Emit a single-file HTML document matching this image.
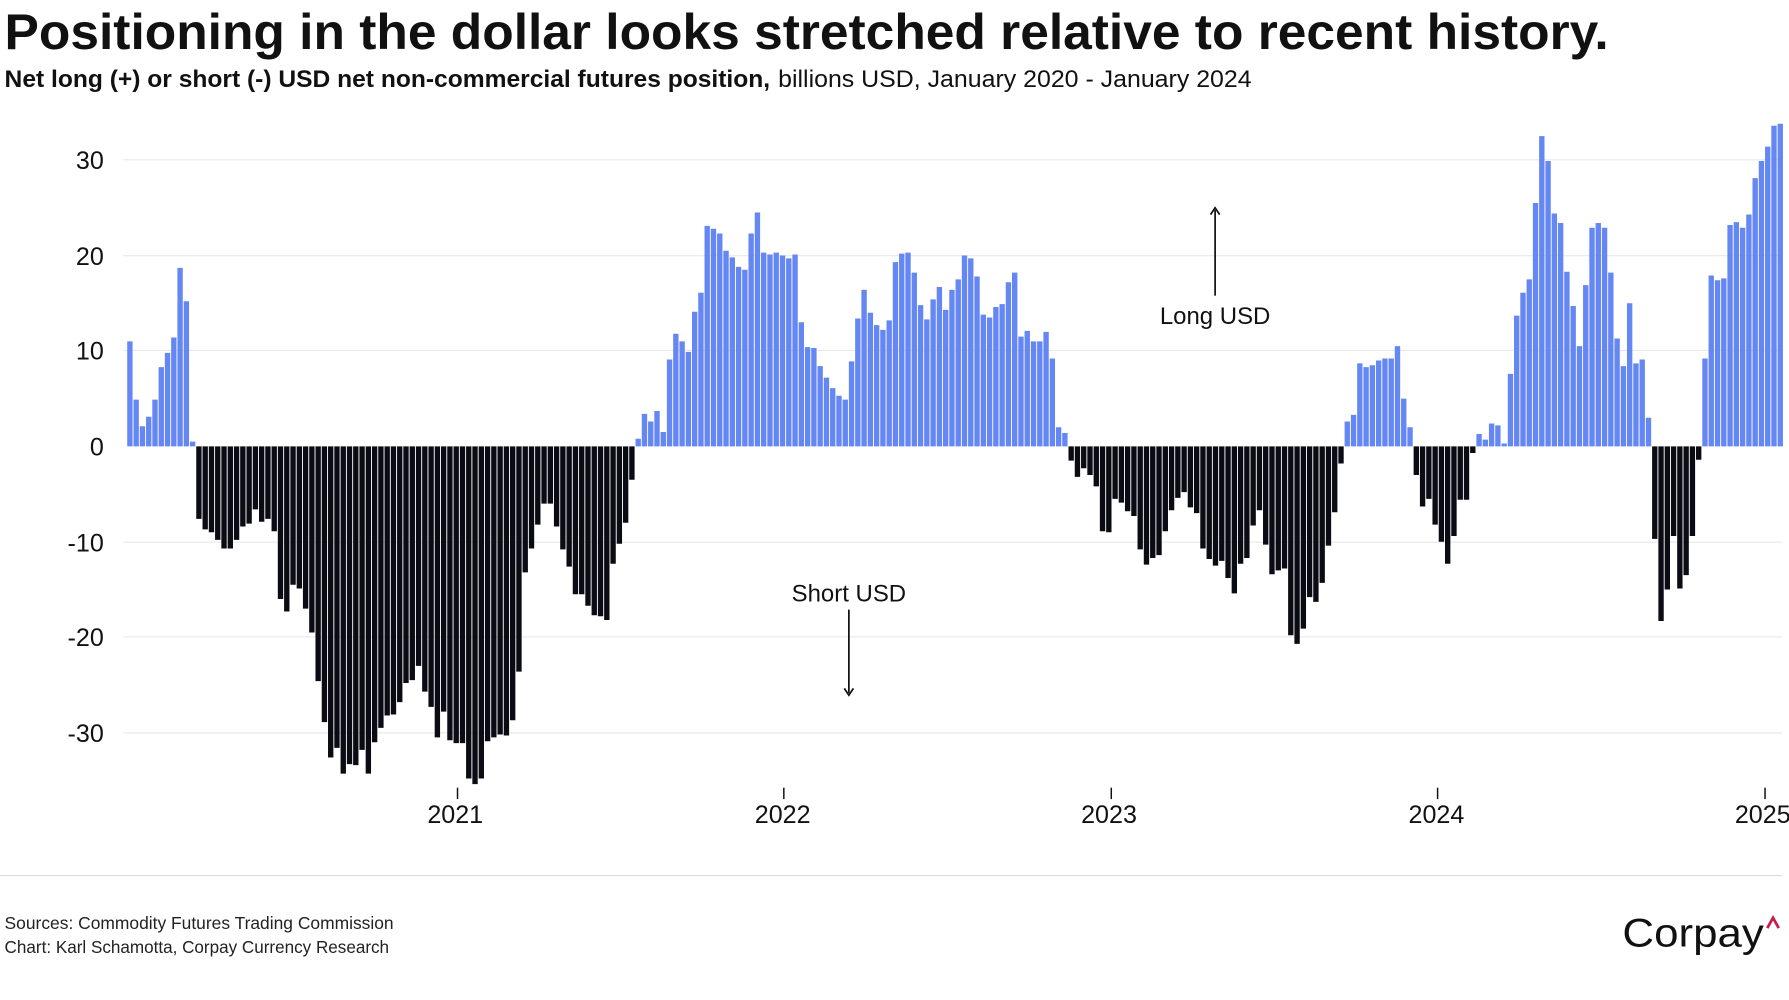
<!DOCTYPE html>
<html><head><meta charset="utf-8"><style>
html,body{margin:0;padding:0;background:#fff;}
svg{display:block;}
text{font-family:"Liberation Sans",sans-serif;}
</style></head><body>
<svg width="1789" height="1000" viewBox="0 0 1568 876" preserveAspectRatio="none" xmlns="http://www.w3.org/2000/svg">
<rect width="1568" height="876" fill="#fff"/>
<text x="4" y="43" font-size="44" font-weight="bold" fill="#111" textLength="1406" lengthAdjust="spacingAndGlyphs">Positioning in the dollar looks stretched relative to recent history.</text>
<text x="4" y="76" font-size="21" fill="#111"><tspan font-weight="bold" textLength="671" lengthAdjust="spacingAndGlyphs">Net long (+) or short (-) USD net non-commercial futures position,</tspan><tspan x="682" textLength="415" lengthAdjust="spacingAndGlyphs">billions USD, January 2020 - January 2024</tspan></text>
<g stroke="#e8e8e8" stroke-width="1">
<line x1="108" x2="1562" y1="140" y2="140"/><line x1="108" x2="1562" y1="224" y2="224"/>
<line x1="108" x2="1562" y1="307" y2="307"/><line x1="108" x2="1562" y1="475" y2="475"/>
<line x1="108" x2="1562" y1="558" y2="558"/><line x1="108" x2="1562" y1="642" y2="642"/>
</g>
<g font-size="22" fill="#111" text-anchor="end">
<text x="91" y="148">30</text><text x="91" y="232">20</text><text x="91" y="315">10</text>
<text x="91" y="399">0</text><text x="91" y="483">-10</text><text x="91" y="566">-20</text><text x="91" y="650">-30</text>
</g>
<g transform="translate(0,391) scale(1,-8.36)">
<path fill="#6587f4" d="M111.5 0
v11h4.7v-11h.8 v4.9h4.7v-4.9h.8 v2.1h4.7v-2.1h.8 v3.1h4.7v-3.1h.8 v4.9h4.7v-4.9h.8 v8.3h4.7v-8.3h.8 v9.8h4.7v-9.8h.8 v11.4h4.7v-11.4h.8 v18.7h4.7v-18.7h.8 v15.2h4.7v-15.2h.8 v0.5h4.7v-0.5h.8
h385
v0.8h4.7v-0.8h.8 v3.4h4.7v-3.4h.8 v2.6h4.7v-2.6h.8 v3.7h4.7v-3.7h.8 v1.5h4.7v-1.5h.8 v9.1h4.7v-9.1h.8 v11.8h4.7v-11.8h.8 v11h4.7v-11h.8 v9.9h4.7v-9.9h.8 v14.1h4.7v-14.1h.8
v16.1h4.7v-16.1h.8 v23.1h4.7v-23.1h.8 v22.8h4.7v-22.8h.8 v22.3h4.7v-22.3h.8 v20.5h4.7v-20.5h.8 v19.8h4.7v-19.8h.8 v18.8h4.7v-18.8h.8 v18.5h4.7v-18.5h.8 v22.3h4.7v-22.3h.8 v24.5h4.7v-24.5h.8
v20.3h4.7v-20.3h.8 v20.1h4.7v-20.1h.8 v20.3h4.7v-20.3h.8 v20h4.7v-20h.8 v19.7h4.7v-19.7h.8 v20.1h4.7v-20.1h.8 v13h4.7v-13h.8 v10.4h4.7v-10.4h.8 v10.3h4.7v-10.3h.8 v8.4h4.7v-8.4h.8
v7.2h4.7v-7.2h.8 v6.1h4.7v-6.1h.8 v5.3h4.7v-5.3h.8 v4.9h4.7v-4.9h.8 v8.9h4.7v-8.9h.8 v13.4h4.7v-13.4h.8 v16.4h4.7v-16.4h.8 v14h4.7v-14h.8 v12.7h4.7v-12.7h.8 v12.2h4.7v-12.2h.8 v13.2h4.7v-13.2h.8
v19.3h4.7v-19.3h.8 v20.2h4.7v-20.2h.8 v20.3h4.7v-20.3h.8 v18.2h4.7v-18.2h.8 v14.8h4.7v-14.8h.8 v13.3h4.7v-13.3h.8 v15.4h4.7v-15.4h.8 v16.7h4.7v-16.7h.8 v14.3h4.7v-14.3h.8 v16.4h4.7v-16.4h.8
v17.5h4.7v-17.5h.8 v20h4.7v-20h.8 v19.7h4.7v-19.7h.8 v17.8h4.7v-17.8h.8 v13.8h4.7v-13.8h.8 v13.5h4.7v-13.5h.8 v14.6h4.7v-14.6h.8 v14.9h4.7v-14.9h.8 v17.2h4.7v-17.2h.8 v18.2h4.7v-18.2h.8
v11.5h4.7v-11.5h.8 v12.1h4.7v-12.1h.8 v11h4.7v-11h.8 v11h4.7v-11h.8 v12h4.7v-12h.8 v9.2h4.7v-9.2h.8 v2h4.7v-2h.8 v1.4h4.7v-1.4h.8
h242
v2.6h4.7v-2.6h.8 v3.3h4.7v-3.3h.8 v8.7h4.7v-8.7h.8 v8.3h4.7v-8.3h.8 v8.5h4.7v-8.5h.8 v9h4.7v-9h.8 v9.2h4.7v-9.2h.8 v9.2h4.7v-9.2h.8 v10.5h4.7v-10.5h.8 v5h4.7v-5h.8 v2h4.7v-2h.8
h55
v1.3h4.7v-1.3h.8 v0.7h4.7v-0.7h.8 v2.4h4.7v-2.4h.8 v2.2h4.7v-2.2h.8 v0.3h4.7v-0.3h.8 v7.6h4.7v-7.6h.8 v13.7h4.7v-13.7h.8 v16.1h4.7v-16.1h.8 v17.5h4.7v-17.5h.8 v25.5h4.7v-25.5h.8
v32.5h4.7v-32.5h.8 v29.9h4.7v-29.9h.8 v24.4h4.7v-24.4h.8 v23.4h4.7v-23.4h.8 v18.3h4.7v-18.3h.8 v14.7h4.7v-14.7h.8 v10.5h4.7v-10.5h.8 v16.9h4.7v-16.9h.8 v22.9h4.7v-22.9h.8 v23.4h4.7v-23.4h.8
v22.9h4.7v-22.9h.8 v18.2h4.7v-18.2h.8 v11.3h4.7v-11.3h.8 v8.4h4.7v-8.4h.8 v15h4.7v-15h.8 v8.7h4.7v-8.7h.8 v9.1h4.7v-9.1h.8 v3h4.7v-3h.8
h44
v9.2h4.7v-9.2h.8 v17.9h4.7v-17.9h.8 v17.4h4.7v-17.4h.8 v17.6h4.7v-17.6h.8 v23.2h4.7v-23.2h.8 v23.5h4.7v-23.5h.8 v22.9h4.7v-22.9h.8 v24.3h4.7v-24.3h.8 v28.1h4.7v-28.1h.8 v29.9h4.7v-29.9h.8
v31.4h4.7v-31.4h.8 v33.6h4.7v-33.6h.8 v33.8h4.7v-33.8h.8"/>
<path fill="#0b0b14" d="M111.5 0 h60.5
v-7.6h4.7v7.6h.8 v-8.7h4.7v8.7h.8 v-9h4.7v9h.8 v-9.8h4.7v9.8h.8 v-10.7h4.7v10.7h.8 v-10.7h4.7v10.7h.8 v-9.8h4.7v9.8h.8 v-8.4h4.7v8.4h.8 v-8.1h4.7v8.1h.8 v-6.6h4.7v6.6h.8
v-7.9h4.7v7.9h.8 v-7.6h4.7v7.6h.8 v-8.9h4.7v8.9h.8 v-16h4.7v16h.8 v-17.3h4.7v17.3h.8 v-14.5h4.7v14.5h.8 v-14.9h4.7v14.9h.8 v-17h4.7v17h.8 v-19.5h4.7v19.5h.8 v-24.6h4.7v24.6h.8
v-28.9h4.7v28.9h.8 v-32.6h4.7v32.6h.8 v-31.6h4.7v31.6h.8 v-34.3h4.7v34.3h.8 v-33.3h4.7v33.3h.8 v-33.4h4.7v33.4h.8 v-31.8h4.7v31.8h.8 v-34.3h4.7v34.3h.8 v-31h4.7v31h.8 v-29.5h4.7v29.5h.8
v-28.2h4.7v28.2h.8 v-28.1h4.7v28.1h.8 v-26.8h4.7v26.8h.8 v-24.8h4.7v24.8h.8 v-24.5h4.7v24.5h.8 v-23h4.7v23h.8 v-25.7h4.7v25.7h.8 v-27.3h4.7v27.3h.8 v-30.5h4.7v30.5h.8 v-27.8h4.7v27.8h.8
v-30.8h4.7v30.8h.8 v-31.1h4.7v31.1h.8 v-31.1h4.7v31.1h.8 v-34.8h4.7v34.8h.8 v-35.4h4.7v35.4h.8 v-34.8h4.7v34.8h.8 v-30.9h4.7v30.9h.8 v-30.5h4.7v30.5h.8 v-30.2h4.7v30.2h.8 v-30.3h4.7v30.3h.8
v-28.7h4.7v28.7h.8 v-23.6h4.7v23.6h.8 v-13.2h4.7v13.2h.8 v-10.7h4.7v10.7h.8 v-8.2h4.7v8.2h.8 v-6h4.7v6h.8 v-6h4.7v6h.8 v-8.4h4.7v8.4h.8 v-10.8h4.7v10.8h.8 v-12.6h4.7v12.6h.8
v-15.5h4.7v15.5h.8 v-15.5h4.7v15.5h.8 v-16.7h4.7v16.7h.8 v-17.7h4.7v17.7h.8 v-17.8h4.7v17.8h.8 v-18.2h4.7v18.2h.8 v-12.3h4.7v12.3h.8 v-10.2h4.7v10.2h.8 v-8h4.7v8h.8 v-3.5h4.7v3.5h.8
h379.5
v-1.5h4.7v1.5h.8 v-3.2h4.7v3.2h.8 v-2.3h4.7v2.3h.8 v-3h4.7v3h.8 v-4.2h4.7v4.2h.8 v-8.9h4.7v8.9h.8 v-9h4.7v9h.8 v-5.5h4.7v5.5h.8 v-5.9h4.7v5.9h.8 v-6.8h4.7v6.8h.8
v-7.3h4.7v7.3h.8 v-10.8h4.7v10.8h.8 v-12.4h4.7v12.4h.8 v-11.7h4.7v11.7h.8 v-11.4h4.7v11.4h.8 v-8.9h4.7v8.9h.8 v-6.7h4.7v6.7h.8 v-5.4h4.7v5.4h.8 v-4.8h4.7v4.8h.8
v-6.4h4.7v6.4h.8 v-7h4.7v7h.8 v-10.7h4.7v10.7h.8 v-11.8h4.7v11.8h.8 v-12.5h4.7v12.5h.8 v-12h4.7v12h.8 v-13.8h4.7v13.8h.8 v-15.4h4.7v15.4h.8 v-12.3h4.7v12.3h.8 v-11.7h4.7v11.7h.8
v-8.3h4.7v8.3h.8 v-6.7h4.7v6.7h.8 v-10.3h4.7v10.3h.8 v-13.4h4.7v13.4h.8 v-13h4.7v13h.8 v-12.8h4.7v12.8h.8 v-19.8h4.7v19.8h.8 v-20.7h4.7v20.7h.8 v-19.1h4.7v19.1h.8 v-15.8h4.7v15.8h.8
v-16.3h4.7v16.3h.8 v-14.3h4.7v14.3h.8 v-10.4h4.7v10.4h.8 v-6.9h4.7v6.9h.8 v-1.8h4.7v1.8h.8
h60.5
v-3h4.7v3h.8 v-6.3h4.7v6.3h.8 v-5.5h4.7v5.5h.8 v-8.2h4.7v8.2h.8 v-10h4.7v10h.8 v-12.3h4.7v12.3h.8 v-9.4h4.7v9.4h.8 v-5.6h4.7v5.6h.8 v-5.6h4.7v5.6h.8 v-0.7h4.7v0.7h.8
h154
v-9.7h4.7v9.7h.8 v-18.3h4.7v18.3h.8 v-15h4.7v15h.8 v-9.4h4.7v9.4h.8 v-14.9h4.7v14.9h.8 v-13.5h4.7v13.5h.8 v-9.4h4.7v9.4h.8 v-1.4h4.7v1.4h.8"/>
</g>
<g stroke="#111" stroke-width="1.3">
<line x1="401" x2="401" y1="690" y2="700"/><line x1="687" x2="687" y1="690" y2="700"/>
<line x1="974" x2="974" y1="690" y2="700"/><line x1="1260" x2="1260" y1="690" y2="700"/>
<line x1="1547" x2="1547" y1="690" y2="700"/>
</g>
<g font-size="22" fill="#111" text-anchor="middle">
<text x="399" y="721">2021</text><text x="686" y="721">2022</text><text x="972" y="721">2023</text>
<text x="1259" y="721">2024</text><text x="1545" y="721">2025</text>
</g>
<text x="1065" y="284" font-size="21" fill="#111" text-anchor="middle">Long USD</text>
<line x1="1065" x2="1065" y1="259" y2="184" stroke="#111" stroke-width="1.5"/>
<path d="M1061 188 L1065 182 L1069 188" fill="none" stroke="#111" stroke-width="1.5"/>
<text x="744" y="527" font-size="21" fill="#111" text-anchor="middle">Short USD</text>
<line x1="744" x2="744" y1="534" y2="607" stroke="#111" stroke-width="1.5"/>
<path d="M740 603 L744 609 L748 603" fill="none" stroke="#111" stroke-width="1.5"/>
<line x1="0" x2="1562" y1="767" y2="767" stroke="#dcdcdc" stroke-width="1"/>
<text x="4" y="814" font-size="15" fill="#222" textLength="341" lengthAdjust="spacingAndGlyphs">Sources: Commodity Futures Trading Commission</text>
<text x="4" y="835" font-size="15" fill="#222" textLength="337" lengthAdjust="spacingAndGlyphs">Chart: Karl Schamotta, Corpay Currency Research</text>
<text x="1422" y="829" font-size="35" fill="#111" textLength="124" lengthAdjust="spacingAndGlyphs">Corpay</text>
<path d="M1549 813 L1554 804 L1559 813" fill="none" stroke="#c41e4a" stroke-width="2.4"/>
</svg>
</body></html>
